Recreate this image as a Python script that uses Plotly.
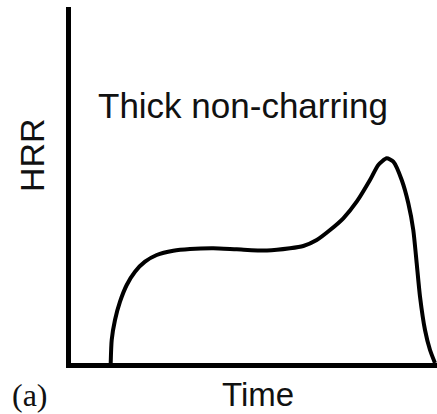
import plotly.graph_objects as go

# Read values (arbitrary units: time 0-100, HRR 0-100)
time = [10.85, 11.12, 12.02, 13.39, 15.22, 17.49, 20.22, 23.42, 27.95, 32.51,
        38.88, 45.27, 53.55, 59.84, 63.47, 67.13, 70.77, 74.40, 78.06, 81.69,
        83.96, 86.26, 88.06, 90.36, 92.16, 93.52, 94.45, 95.36, 96.72, 98.09, 99.45]
hrr = [0.0, 6.46, 12.08, 17.22, 21.91, 25.65, 28.46, 30.34, 31.54, 32.02,
       32.22, 31.94, 31.60, 32.22, 32.87, 34.55, 37.36, 40.65, 45.31, 51.40,
       55.62, 57.50, 56.54, 51.40, 44.86, 37.36, 28.01, 18.62, 9.27, 3.65, 0.0]

curve_label = "Thick non-charring"
x_label = "Time"
y_label = "HRR"
panel_label = "(a)"

fig = go.Figure()
fig.add_trace(go.Scatter(x=time, y=hrr, mode="lines",
                         line=dict(color="black", width=4, shape="spline", smoothing=0.6),
                         hoverinfo="skip", showlegend=False))

font = "Liberation Sans, Arial, sans-serif"
fig.add_annotation(x=243, y=106, xref="paper", yref="paper", text=curve_label, showarrow=False,
                   font=dict(family=font, size=35, color="#111"), xanchor="center", yanchor="middle")
fig.add_annotation(x=32, y=155, xref="paper", yref="paper", text=y_label, showarrow=False,
                   textangle=-90, font=dict(family=font, size=34, color="#111"),
                   xanchor="center", yanchor="middle")
fig.add_annotation(x=258, y=414, xref="paper", yref="paper", text=x_label, showarrow=False,
                   font=dict(family=font, size=33, color="#111"), xanchor="center", yanchor="bottom",
                   borderpad=0)
fig.add_annotation(x=30, y=414, xref="paper", yref="paper", text=panel_label, showarrow=False,
                   font=dict(family="Liberation Serif, Times New Roman, serif", size=32, color="#111"),
                   xanchor="center", yanchor="bottom", borderpad=0)

# convert paper annotations from pixel positions
W, H = 437, 414
L, R, T, B = 71, 0, 7, 51
pw, ph = W - L - R, H - T - B
for a in fig.layout.annotations:
    if a.xref == "paper":
        a.x = (a.x - L) / pw
        a.y = (H - B - a.y) / ph

fig.update_layout(
    width=W, height=H,
    margin=dict(l=L, r=R, t=T, b=B),
    paper_bgcolor="white", plot_bgcolor="white",
    xaxis=dict(range=[0, 100], showline=True, linecolor="black", linewidth=5,
               showgrid=False, zeroline=False, showticklabels=False, ticks=""),
    yaxis=dict(range=[0, 100], showline=True, linecolor="black", linewidth=5,
               showgrid=False, zeroline=False, showticklabels=False, ticks=""),
)
fig.write_html("out.html", config={"displayModeBar": False},
               post_script="document.body.style.margin='0';document.body.style.overflow='hidden';")
